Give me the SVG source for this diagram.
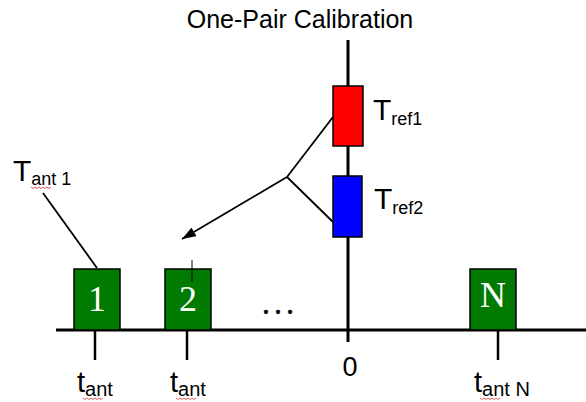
<svg xmlns="http://www.w3.org/2000/svg" width="586" height="402" viewBox="0 0 586 402">
<defs>
<marker id="arr" viewBox="0 0 14 10" refX="14" refY="5" markerWidth="14" markerHeight="10" markerUnits="userSpaceOnUse" orient="auto">
<path d="M0,0 L14,5 L0,10 Z" fill="#000"/>
</marker>
</defs>
<style>
.ax{stroke:#000;stroke-width:3;fill:none}
.tk{stroke:#000;stroke-width:2.5;fill:none}
.ln{stroke:#000;stroke-width:1.8;fill:none}
.ant{fill:#007a00;stroke:#000;stroke-width:1.5}
.num{font-family:"Liberation Serif","Times New Roman",serif;font-size:36px;fill:#fff;text-anchor:middle}
.lbl{font-family:"Liberation Sans",Arial,sans-serif;fill:#000}
.sq{stroke:#e03030;stroke-width:0.8;fill:none}
</style>
<rect width="586" height="402" fill="#fff"/>
<text class="lbl" x="300" y="28" font-size="25" text-anchor="middle">One-Pair Calibration</text>
<g id="axes">
<line class="ax" x1="56" y1="330" x2="586" y2="330"/>
<line class="ax" x1="348" y1="40" x2="348" y2="342"/>
<line class="tk" x1="95" y1="330" x2="95" y2="360"/>
<line class="tk" x1="187" y1="330" x2="187" y2="360"/>
<line class="tk" x1="498" y1="330" x2="498" y2="360"/>
<text class="lbl" x="350" y="376" font-size="27" text-anchor="middle">0</text>
</g>
<g id="ref1">
<rect x="333" y="86" width="30" height="60" fill="#ff0000" stroke="#000" stroke-width="1.5"/>
<text class="lbl" x="373" y="120" font-size="30">T<tspan font-size="18" dy="5">ref1</tspan></text>
</g>
<g id="ref2">
<rect x="333" y="176" width="29" height="61" fill="#0000ff" stroke="#000" stroke-width="1.5"/>
<text class="lbl" x="374" y="209" font-size="30">T<tspan font-size="18" dy="5">ref2</tspan></text>
</g>
<g id="ant1">
<rect class="ant" x="74" y="269" width="46" height="61"/>
<text class="num" x="97" y="311">1</text>
<text class="lbl" x="77" y="392" font-size="29">t<tspan font-size="20" dy="4">ant</tspan></text>
<path class="sq" d="M83,398 l2,1.5 l2,-1.5 l2,1.5 l2,-1.5 l2,1.5 l2,-1.5 l2,1.5 l2,-1.5 l2,1.5 l2,-1.5"/>
</g>
<g id="ant2">
<rect class="ant" x="165" y="269" width="46" height="61"/>
<text class="num" x="188" y="311">2</text>
<line x1="192" y1="260" x2="192" y2="282" stroke="#000" stroke-width="1"/>
<text class="lbl" x="170" y="392" font-size="29">t<tspan font-size="20" dy="4">ant</tspan></text>
<path class="sq" d="M176,398 l2,1.5 l2,-1.5 l2,1.5 l2,-1.5 l2,1.5 l2,-1.5 l2,1.5 l2,-1.5 l2,1.5 l2,-1.5"/>
</g>
<g id="antN">
<rect class="ant" x="470" y="269" width="46" height="61"/>
<text class="num" x="493" y="307">N</text>
<text class="lbl" x="474" y="392" font-size="29">t<tspan font-size="20" dy="4">ant N</tspan></text>
<path class="sq" d="M480,398 l2,1.5 l2,-1.5 l2,1.5 l2,-1.5 l2,1.5 l2,-1.5 l2,1.5 l2,-1.5 l2,1.5 l2,-1.5"/>
</g>
<g id="dots">
<text class="num" x="278" y="314" style="fill:#000">…</text>
</g>
<g id="tant1label">
<text class="lbl" x="13" y="181" font-size="30">T<tspan font-size="18" dy="4">ant 1</tspan></text>
<path class="sq" d="M31,187 l2,1.5 l2,-1.5 l2,1.5 l2,-1.5 l2,1.5 l2,-1.5 l2,1.5 l2,-1.5 l2,1.5 l2,-1.5"/>
</g>
<g id="connectors">
<line class="ln" x1="43" y1="193" x2="97" y2="268"/>
<line class="ln" x1="333" y1="117" x2="287" y2="177"/>
<line class="ln" x1="333" y1="222" x2="287" y2="177"/>
<line class="ln" x1="287" y1="177" x2="182" y2="239" marker-end="url(#arr)"/>
</g>
</svg>
